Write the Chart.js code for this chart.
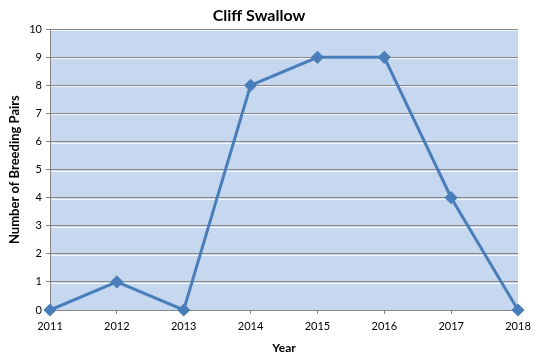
<!DOCTYPE html>
<html><head><meta charset="utf-8">
<script src="https://cdn.jsdelivr.net/npm/chart.js@4/dist/chart.umd.min.js"></script>
<style>html,body{margin:0;padding:0;background:#fff}#w{width:540px;height:363px}</style>
</head><body><div id="w"><canvas id="c" width="540" height="363"></canvas></div>
<script>
const years = ['2011','2012','2013','2014','2015','2016','2017','2018'];
const breedingPairs = [0, 1, 0, 8, 9, 9, 4, 0];
const yTicks = [0,1,2,3,4,5,6,7,8,9,10];

const bgPlugin = {
  id: 'bg',
  beforeDraw(chart) {
    const {ctx, chartArea: a} = chart;
    ctx.save();
    ctx.fillStyle = '#c6d8ef';
    ctx.fillRect(a.left, a.top, a.right - a.left, a.bottom - a.top);
    const y = chart.scales.y;
    ctx.strokeStyle = 'rgba(255,255,255,0.8)';
    ctx.lineWidth = 1;
    yTicks.forEach(v => {
      if (v === 0) return;
      const py = Math.round(y.getPixelForValue(v)) + 1.5;
      ctx.beginPath(); ctx.moveTo(a.left, py); ctx.lineTo(a.right, py); ctx.stroke();
    });
    ctx.restore();
  }
};

new Chart(document.getElementById('c'), {
  type: 'line',
  data: { labels: years, datasets: [{
    data: breedingPairs,
    borderColor: '#4a7ebb', backgroundColor: '#4a7ebb',
    borderWidth: 3, pointStyle: 'rectRot', pointRadius: 4.5, pointHoverRadius: 4.5,
    tension: 0, clip: false
  }]},
  options: {
    responsive: false, animation: false, events: [],
    layout: { padding: { left: 0, right: 22, top: 0, bottom: 0 } },
    plugins: {
      legend: { display: false }, tooltip: { enabled: false },
      title: { display: true, text: 'Cliff Swallow', color: '#000',
        font: { family: 'Lato', size: 16, weight: 'bold' }, padding: { top: 6, bottom: 4 } }
    },
    scales: {
      x: {
        type: 'category', offset: false,
        grid: { drawOnChartArea: false, drawTicks: true, tickLength: 4, color: '#868686' },
        border: { color: '#868686', width: 1 },
        ticks: { color: '#000', font: { family: 'Lato', size: 11 }, padding: 6, maxRotation: 0 },
        title: { display: true, text: 'Year', color: '#000', font: { family: 'Lato', size: 12, weight: 'bold' }, padding: { top: 4, bottom: 8 } },
        afterFit(s) { s.height = 53; }
      },
      y: {
        min: 0, max: 10,
        afterBuildTicks(s) { s.ticks = yTicks.map(v => ({ value: v })); },
        grid: { color: '#868686', tickLength: 4, lineWidth: 1 },
        border: { color: '#868686', width: 1 },
        ticks: { color: '#000', font: { family: 'Lato', size: 11 }, padding: 4 },
        title: { display: true, text: 'Number of Breeding Pairs', color: '#000', font: { family: 'Lato', size: 13, weight: 'bold' }, padding: { top: 7, bottom: 4 } },
        afterFit(s) { s.width = 50; }
      }
    }
  },
  plugins: [bgPlugin]
});
</script></body></html>
